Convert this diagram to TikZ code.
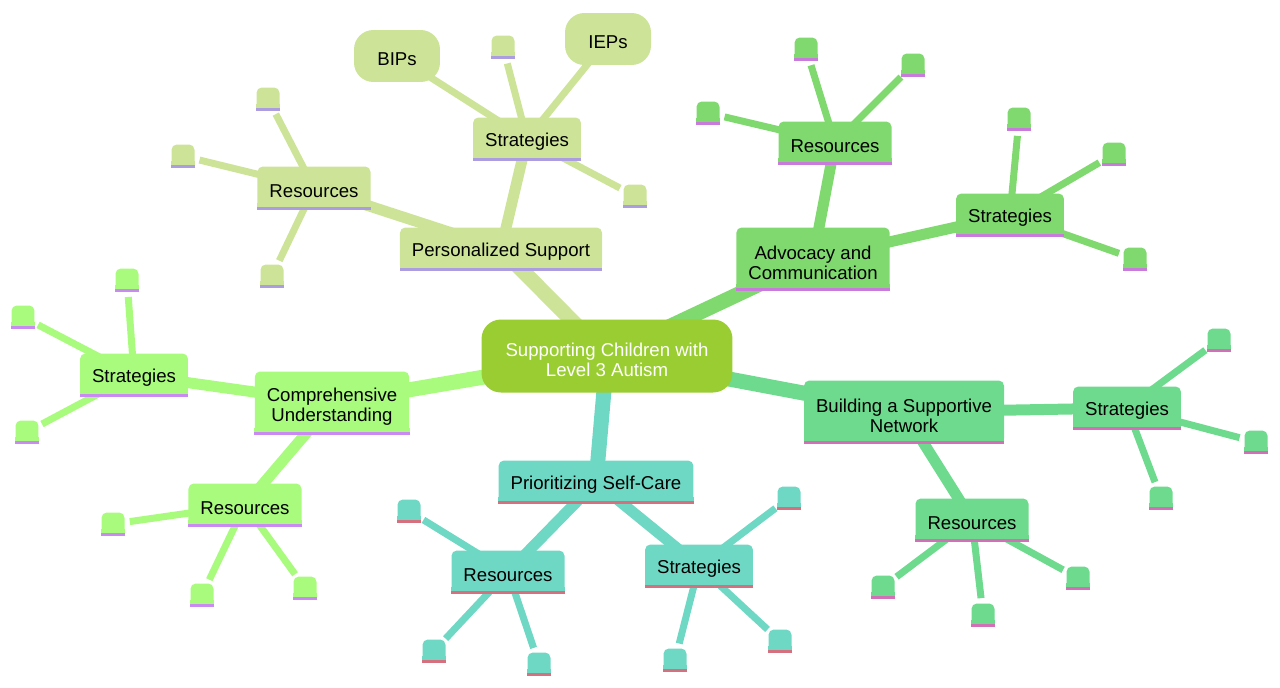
\documentclass[tikz,border=0pt]{standalone}
\usepackage{fontspec}
\setmainfont{Liberation Sans}
\usetikzlibrary{backgrounds}
\pgfdeclarelayer{front}
\pgfsetlayers{background,main,front}

\definecolor{root}{HTML}{9ACD32}
\definecolor{ps}{HTML}{CDE498}   \definecolor{psline}{HTML}{AC9CE0}
\definecolor{adv}{HTML}{7FD96F}  \definecolor{advline}{HTML}{C97BDC}
\definecolor{net}{HTML}{6DDA8E}  \definecolor{netline}{HTML}{D36FB9}
\definecolor{sc}{HTML}{6ED8C5}   \definecolor{scline}{HTML}{D5707E}
\definecolor{cu}{HTML}{A9FB7E}   \definecolor{culine}{HTML}{C98BF2}

\newcommand{\lowr}{\rule{0pt}{11.7pt}}

\tikzset{
  mmfont/.style={font=\fontsize{10.6}{11.3}\selectfont,
    execute at begin node={\rule{0pt}{11.2pt}}},
  topic/.style={rectangle, rounded corners=3pt, fill=#1, mmfont, align=center,
    inner xsep=0.24cm, inner ysep=0pt, minimum height=0.86cm,
    append after command={\pgfextra{\begin{pgfonlayer}{front}
      \fill[#1, sharp corners] (\tikzlastnode.south west) rectangle ([yshift=4pt]\tikzlastnode.south east);
      \fill[#1line, sharp corners] (\tikzlastnode.south west) rectangle ([yshift=1.7pt]\tikzlastnode.south east);
      \end{pgfonlayer}}}},
  twoline/.style={minimum height=1.26cm},
  leaf/.style={topic=#1, minimum width=0.46cm, minimum height=0.46cm, inner sep=0pt},
  pill/.style={rectangle, rounded corners=11pt, fill=#1, mmfont, minimum width=1.72cm, minimum height=1.04cm},
  trunk/.style={line width=0.30cm, draw=#1},
  bough/.style={line width=0.22cm, draw=#1},
  twig/.style={line width=0.14cm, draw=#1},
}

\begin{document}
\begin{tikzpicture}[x=0.02cm, y=-0.02cm]
\useasboundingbox (0,0) rectangle (1280,687);

% centre
\node[rectangle, rounded corners=11pt, fill=root, text=white, mmfont, align=center,
      minimum width=5.02cm, minimum height=1.46cm] (root) at (607,356)
      {\lowr Supporting Children with\\Level 3 Autism};

% main branches
\node[topic=ps] (ps) at (501,249) {Personalized Support};
\node[topic=adv, twoline] (adv) at (813,259) {\lowr Advocacy and\\Communication};
\node[topic=net, twoline] (net) at (904,412) {\lowr Building a Supportive\\Network};
\node[topic=sc] (sc) at (596,482) {Prioritizing Self-Care};
\node[topic=cu, twoline] (cu) at (332,403) {\lowr Comprehensive\\Understanding};

% second level
\node[topic=ps] (psS) at (527,139) {Strategies};
\node[topic=ps] (psR) at (314,188) {Resources};
\node[topic=adv] (advR) at (835,143) {Resources};
\node[topic=adv] (advS) at (1010,215) {Strategies};
\node[topic=net] (netS) at (1127,408) {Strategies};
\node[topic=net] (netR) at (972,520) {Resources};
\node[topic=sc] (scR) at (508,572) {Resources};
\node[topic=sc] (scS) at (699,566) {Strategies};
\node[topic=cu] (cuS) at (134,375) {Strategies};
\node[topic=cu] (cuR) at (245,505) {Resources};

\node[pill=ps] (bips) at (397,56) {BIPs};
\node[pill=ps] (ieps) at (608,39) {IEPs};

\begin{scope}[on background layer]
  \foreach \b in {ps,adv,net,sc,cu}
    \draw[trunk=\b] (root.center) -- (\b.center);
  \foreach \a/\b/\c in {ps/psS/ps, ps/psR/ps, adv/advR/adv, adv/advS/adv,
      net/netS/net, net/netR/net, sc/scR/sc, sc/scS/sc, cu/cuS/cu, cu/cuR/cu}
    \draw[bough=\c] (\a.center) -- (\b.center);
  \draw[twig=ps] (psS.center) -- (bips.center);
  \draw[twig=ps] (psS.center) -- (ieps.center);
\end{scope}

% empty leaves
\foreach \p/\x/\y/\c [count=\i] in {
    psS/503/47/ps, psS/635/196/ps,
    psR/268/99/ps, psR/183/156/ps, psR/272/276/ps,
    advR/806/49/adv, advR/913/65/adv, advR/708/113/adv,
    advS/1019/119/adv, advS/1114/154/adv, advS/1135/259/adv,
    netS/1219/340/net, netS/1256/442/net, netS/1161/498/net,
    netR/883/587/net, netR/983/615/net, netR/1078/578/net,
    scR/409/511/sc, scR/434/651/sc, scR/539/664/sc,
    scS/789/498/sc, scS/675/660/sc, scS/780/641/sc,
    cuS/127/280/cu, cuS/23/317/cu, cuS/27/432/cu,
    cuR/113/524/cu, cuR/202/595/cu, cuR/305/588/cu}{
  \node[leaf=\c] (leaf\i) at (\x,\y) {};
  \begin{pgfonlayer}{background}
    \draw[twig=\c, shorten >=0.34cm] (\p.center) -- (leaf\i.center);
  \end{pgfonlayer}
}
\end{tikzpicture}
\end{document}
